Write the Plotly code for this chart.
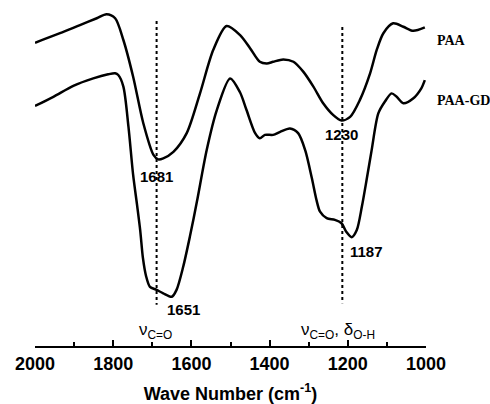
import plotly.graph_objects as go

# Wavenumbers (cm-1) and relative transmittance (a.u.)
paa_wn = [2000, 1936, 1885, 1842, 1817, 1795, 1774, 1749, 1723, 1697, 1685, 1672, 1646,
          1612, 1578, 1544, 1510, 1476, 1450, 1425, 1407, 1391, 1365, 1339, 1314, 1288,
          1263, 1237, 1216, 1194, 1169, 1143, 1126, 1109, 1084, 1058, 1033, 1003]
paa_t = [89.2, 92.0, 94.4, 96.4, 97.6, 96.4, 90.0, 79.2, 65.5, 56.2, 54.9, 55.2, 57.1,
         62.6, 74.3, 87.1, 94.1, 91.5, 87.6, 83.6, 83.1, 83.6, 84.3, 83.6, 80.7, 76.3,
         71.4, 67.9, 66.3, 67.4, 72.4, 80.2, 87.1, 92.0, 94.9, 93.9, 92.7, 93.7]

gd_wn = [2000, 1953, 1902, 1851, 1813, 1795, 1787, 1774, 1761, 1749, 1739, 1731, 1724,
         1716, 1706, 1689, 1672, 1650, 1638, 1621, 1604, 1586, 1561, 1535, 1501, 1476,
         1459, 1437, 1425, 1412, 1391, 1373, 1348, 1327, 1309, 1292, 1280, 1271, 1254,
         1233, 1216, 1204, 1190, 1177, 1164, 1152, 1139, 1122, 1105, 1088, 1075, 1058,
         1033, 1012, 1003]
gd_t = [70.6, 73.3, 76.5, 78.7, 79.9, 80.2, 79.7, 76.3, 64.5, 50.3, 41.5, 34.1, 25.9,
        20.6, 17.4, 16.5, 15.5, 14.5, 16.5, 23.3, 32.1, 42.4, 57.6, 69.4, 78.7, 74.7,
        69.4, 62.6, 61.1, 62.1, 62.1, 63.0, 64.0, 62.6, 57.6, 49.4, 42.9, 39.5, 37.6,
        37.1, 36.1, 33.6, 32.0, 34.1, 41.0, 48.8, 57.6, 68.4, 71.9, 74.3, 73.3, 71.4,
        72.8, 75.8, 78.2]

ref_lines_wn = [1689, 1214]
ref_lines_top = [95.6, 93.8]
ref_lines_bottom = [12.1, 12.6]

peak_labels = ["1681", "1230", "1651", "1187"]
peak_x = [1689, 1216, 1619, 1152]
peak_y = [49.8, 62.1, 10.6, 27.9]

band_labels = ["ν<sub>C=O</sub>", "ν<sub>C=O</sub>, δ<sub>O-H</sub>"]
band_x = [1691, 1226]
band_y = [4.5, 4.5]

series_names = ["PAA", "PAA-GD"]
series_label_y = [0.925, 0.75]

fig = go.Figure()
fig.add_trace(go.Scatter(x=paa_wn, y=paa_t, mode="lines", name=series_names[0],
                         line=dict(color="black", width=2.5, shape="spline", smoothing=0.8)))
fig.add_trace(go.Scatter(x=gd_wn, y=gd_t, mode="lines", name=series_names[1],
                         line=dict(color="black", width=2.5, shape="spline", smoothing=0.8)))

for xw, y0, y1 in zip(ref_lines_wn, ref_lines_top, ref_lines_bottom):
    fig.add_trace(go.Scatter(x=[xw, xw], y=[y0, y1], mode="lines", showlegend=False,
                             line=dict(color="black", width=2, dash="dot")))

annotations = []
for t, x, y in zip(peak_labels, peak_x, peak_y):
    annotations.append(dict(x=x, y=y, xref="x", yref="y", text=t, showarrow=False,
                            font=dict(family="Liberation Sans", size=15, color="black",
                                      weight="bold")))
for t, x, y in zip(band_labels, band_x, band_y):
    annotations.append(dict(x=x, y=y, xref="x", yref="y", text=t, showarrow=False,
                            font=dict(family="Liberation Sans", size=17, color="black")))
for t, y in zip(series_names, series_label_y):
    annotations.append(dict(x=1.024, y=y, xref="paper", yref="paper", text="<b>%s</b>" % t,
                            showarrow=False, xanchor="left",
                            font=dict(family="Liberation Serif", size=14, color="black")))

fig.update_layout(
    width=490, height=404,
    margin=dict(l=35, r=64, t=6, b=58),
    plot_bgcolor="white", paper_bgcolor="white",
    showlegend=False,
    annotations=annotations,
    xaxis=dict(
        range=[2000, 1000], dtick=200, tick0=1000,
        showgrid=False, zeroline=False, automargin=False,
        showline=True, linecolor="black", linewidth=2,
        ticks="inside", ticklen=6, tickwidth=2, tickcolor="black",
        minor=dict(dtick=100, ticks="inside", ticklen=4, tickwidth=2, tickcolor="black"),
        tickfont=dict(family="Liberation Sans", size=18, color="black", weight=900),
        title=dict(text="<b>Wave Number (cm<sup>-1</sup>)</b>", standoff=24,
                   font=dict(family="Liberation Sans", size=18, color="black")),
    ),
    yaxis=dict(range=[0, 100], visible=False),
)

fig.write_html("out.html", config={"displayModeBar": False},
               post_script="document.body.style.margin='0';")
